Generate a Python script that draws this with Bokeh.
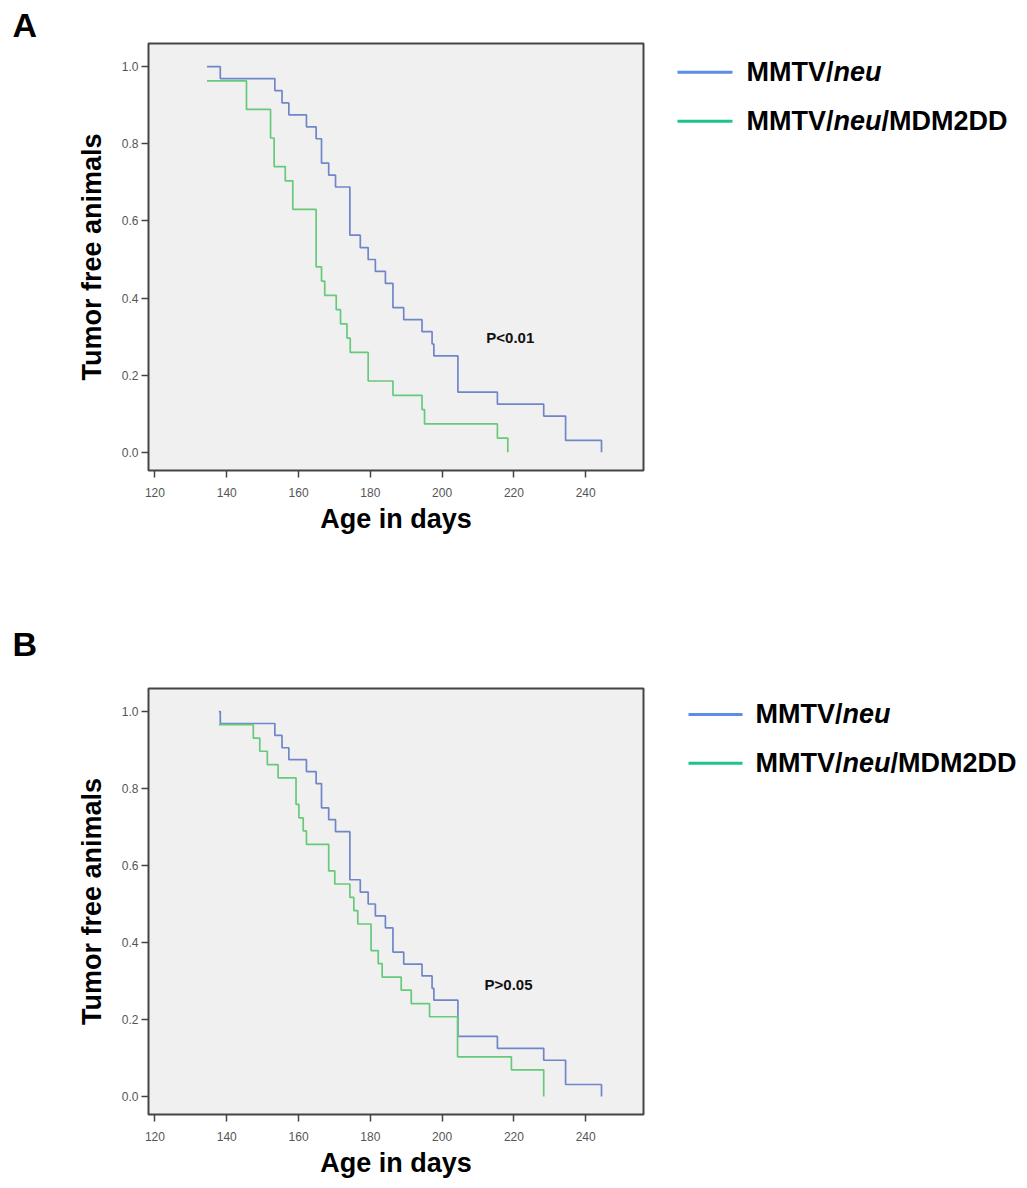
from bokeh.plotting import figure
from bokeh.layouts import column, row
from bokeh.models import Range1d, FixedTicker, PrintfTickFormatter, Title
from bokeh.embed import file_html
from bokeh.resources import INLINE
from bokeh.core.properties import value

# ---------------- data ----------------
x_ticks = [120, 140, 160, 180, 200, 220, 240]
y_ticks = [0.0, 0.2, 0.4, 0.6, 0.8, 1.0]

# Panel A
neu_A_days = [134.5, 138.2, 153.4, 155.4, 157.3, 162.2, 164.9, 166.4, 168.4, 170.3,
              174.3, 177.2, 179.4, 181.4, 184.2, 186.3, 189.3, 194.4, 197.2, 197.7,
              204.4, 215.4, 228.3, 234.4, 244.4]
neu_A_surv = [1.0, 0.969, 0.938, 0.906, 0.875, 0.844, 0.813, 0.75, 0.719, 0.688,
              0.563, 0.531, 0.5, 0.469, 0.438, 0.375, 0.344, 0.313, 0.281, 0.25,
              0.156, 0.125, 0.094, 0.031, 0.0]
mdm_A_days = [134.5, 145.5, 152.2, 153.2, 156.3, 158.4, 164.9, 166.4, 167.3, 170.5,
              171.7, 173.5, 174.4, 179.4, 186.3, 194.4, 195.1, 215.4, 218.3]
mdm_A_surv = [0.963, 0.889, 0.815, 0.741, 0.704, 0.630, 0.481, 0.444, 0.407, 0.370,
              0.333, 0.296, 0.259, 0.185, 0.148, 0.111, 0.074, 0.037, 0.0]

# Panel B
neu_B_days = [137.8, 138.2, 153.4, 155.4, 157.3, 162.2, 164.9, 166.4, 168.4, 170.3,
              174.3, 177.2, 179.4, 181.4, 184.2, 186.3, 189.3, 194.4, 197.2, 197.7,
              204.4, 215.4, 228.3, 234.4, 244.4]
neu_B_surv = [1.0, 0.969, 0.938, 0.906, 0.875, 0.844, 0.813, 0.75, 0.719, 0.688,
              0.563, 0.531, 0.5, 0.469, 0.438, 0.375, 0.344, 0.313, 0.281, 0.25,
              0.156, 0.125, 0.094, 0.031, 0.0]
mdm_B_days = [137.8, 147.4, 149.2, 151.3, 154.3, 159.3, 160.1, 161.3, 162.2, 168.4,
              170.1, 174.3, 175.4, 176.5, 180.2, 182.2, 183.3, 188.6, 191.4, 196.5,
              204.3, 219.3, 228.3]
mdm_B_surv = [0.966, 0.931, 0.897, 0.862, 0.828, 0.759, 0.724, 0.690, 0.655, 0.586,
              0.552, 0.517, 0.483, 0.448, 0.379, 0.345, 0.310, 0.276, 0.241, 0.207,
              0.103, 0.069, 0.0]

p_text_A = "P<0.01"
p_text_B = "P>0.05"
legend_parts_1 = ["MMTV/", "neu"]
legend_parts_2 = ["MMTV/", "neu", "/MDM2DD"]

# ---------------- style ----------------
FONT = "Liberation Sans"
BLUE = "#6f86c9"
GREEN = "#67c97a"
LEG_BLUE = "#5b8ee8"
LEG_GREEN = "#1cc48c"
X_MIN, X_MAX = 118.2, 256.1
Y_MIN, Y_MAX = -0.047, 1.06
FRAME_W = 495
FRAME_H = 427
LEFT = 148
RIGHT = 15
LEG_W = 365
LEG_FS = 27


def km_fig(letter, neu_d, neu_s, mdm_d, mdm_s, ptext, p_xy, top, bottom, valign, standoff):
    title = Title(text=letter, align="left", offset=-136, vertical_align=valign,
                  standoff=standoff, text_font=FONT, text_font_style="bold",
                  text_font_size="34px", text_color="black")
    p = figure(width=LEFT + FRAME_W + RIGHT, height=top + FRAME_H + bottom,
               x_range=Range1d(X_MIN, X_MAX), y_range=Range1d(Y_MIN, Y_MAX),
               output_backend="svg", toolbar_location=None, title=title,
               min_border_left=LEFT, min_border_right=RIGHT,
               min_border_top=top, min_border_bottom=bottom)
    p.background_fill_color = "#f0f0f0"
    p.border_fill_color = "white"
    p.outline_line_color = "#444444"
    p.outline_line_width = 2
    p.grid.visible = False

    p.step(neu_d, neu_s, mode="after", line_color=BLUE, line_width=1.7)
    p.step(mdm_d, mdm_s, mode="after", line_color=GREEN, line_width=1.7)
    p.text(x=[p_xy[0]], y=[p_xy[1]], text=[ptext], text_font=value(FONT),
           text_font_style="bold", text_font_size="15px", text_align="center",
           text_baseline="middle", text_color="#111111")

    p.xaxis.ticker = FixedTicker(ticks=x_ticks)
    p.yaxis.ticker = FixedTicker(ticks=y_ticks)
    p.yaxis.formatter = PrintfTickFormatter(format="%.1f")
    for ax in (p.xaxis, p.yaxis):
        ax.axis_line_color = None
        ax.minor_tick_line_color = None
        ax.major_tick_in = 0
        ax.major_tick_out = 7
        ax.major_tick_line_color = "#444444"
        ax.major_tick_line_width = 1.5
        ax.major_label_text_font = FONT
        ax.major_label_text_font_size = "12px"
        ax.major_label_text_color = "#555555"
        ax.axis_label_text_font = FONT
        ax.axis_label_text_font_style = "bold"
        ax.axis_label_text_font_size = "27px"
        ax.axis_label_text_color = "black"
    p.xaxis.major_label_standoff = 10
    p.xaxis.axis_label_standoff = 4
    p.yaxis.major_label_standoff = 3
    p.yaxis.axis_label_standoff = 12
    p.xaxis.axis_label = "Age in days"
    p.yaxis.axis_label = "Tumor free animals"
    return p


def legend_fig(top, bottom, lx0, lx1, tx, y1, y2):
    # frame coincides with the km frame rows; coordinates = pixels from frame top-left
    f = figure(width=LEG_W, height=top + FRAME_H + bottom,
               x_range=Range1d(0, LEG_W), y_range=Range1d(FRAME_H, 0),
               x_axis_type=None, y_axis_type=None,
               output_backend="svg", toolbar_location=None,
               min_border_left=0, min_border_right=0,
               min_border_top=top, min_border_bottom=bottom)
    f.outline_line_color = None
    f.background_fill_color = "white"
    f.border_fill_color = "white"
    f.segment(x0=[lx0, lx0], y0=[y1, y2], x1=[lx1, lx1], y1=[y1, y2],
              line_color=[LEG_BLUE, LEG_GREEN], line_width=3)
    w_mmtv = 3.222 * LEG_FS
    w_neu = 1.778 * LEG_FS
    common = dict(text_font=value(FONT), text_font_size=f"{LEG_FS}px",
                  text_baseline="middle", text_align="left", text_color="black")
    for yy, parts in ((y1, legend_parts_1), (y2, legend_parts_2)):
        f.text(x=[tx], y=[yy], text=[parts[0]], text_font_style="bold", **common)
        f.text(x=[tx + w_mmtv], y=[yy], text=[parts[1]], text_font_style="bold italic", **common)
        if len(parts) > 2:
            f.text(x=[tx + w_mmtv + w_neu], y=[yy], text=[parts[2]],
                   text_font_style="bold", **common)
    return f


# Panel A: page y 0..598 ; Panel B: page y 598..1180
HA_TOP, HA_BOT = 43, 128
HB_TOP, HB_BOT = 90, 65

rowA = row(km_fig("A", neu_A_days, neu_A_surv, mdm_A_days, mdm_A_surv, p_text_A,
                  (219, 0.298), HA_TOP, HA_BOT, "bottom", 0),
           legend_fig(HA_TOP, HA_BOT, 19, 74, 88, 28.7, 77.7))
rowB = row(km_fig("B", neu_B_days, neu_B_surv, mdm_B_days, mdm_B_surv, p_text_B,
                  (218.5, 0.29), HB_TOP, HB_BOT, "top", 47),
           legend_fig(HB_TOP, HB_BOT, 30, 84, 97, 26, 75))

layout = column(rowA, rowB)
open("out.html", "w").write(file_html(layout, INLINE))
